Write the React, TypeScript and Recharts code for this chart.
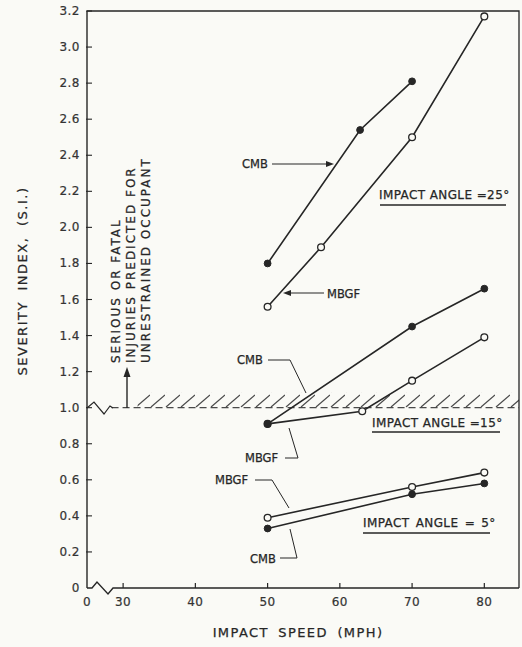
import { LineChart, Line, XAxis, YAxis, ReferenceLine, ReferenceArea } from "recharts";

const BG = "#fafaf6";
const INK = "#262626";
const SOFT = "#333333";
const FONT = "'DejaVu Sans', sans-serif";

// impact speed (mph) and severity index
const cmb25Speed = [50, 62.8, 70];
const cmb25SI = [1.8, 2.54, 2.81];
const mbgf25Speed = [50, 57.4, 70, 80];
const mbgf25SI = [1.56, 1.89, 2.5, 3.17];

const cmb15Speed = [50, 70, 80];
const cmb15SI = [0.91, 1.45, 1.66];
const mbgf15Speed = [50, 63.1, 70, 80];
const mbgf15SI = [0.91, 0.98, 1.15, 1.39];

const cmb5Speed = [50, 70, 80];
const cmb5SI = [0.33, 0.52, 0.58];
const mbgf5Speed = [50, 70, 80];
const mbgf5SI = [0.39, 0.56, 0.64];

// 25 stands for the broken "0" at the origin
const xTicks = [25, 30, 40, 50, 60, 70, 80];
const yTicks = [0, 0.2, 0.4, 0.6, 0.8, 1.0, 1.2, 1.4, 1.6, 1.8, 2.0, 2.2, 2.4, 2.6, 2.8, 3.0, 3.2];

const zip = (s: number[], v: number[]) => s.map((x, i) => ({ s: x, si: v[i] }));

const filledDot = { r: 3.4, fill: INK, stroke: INK, strokeWidth: 1 };
const openDot = { r: 3.4, fill: BG, stroke: INK, strokeWidth: 1.3 };

const X_MARGIN = 8;
const Y_MARGIN = 7;

function XTick(props: any) {
    const { x, y, payload } = props;
    const axisY = y - X_MARGIN;
    return (
        <g>
            {payload.value !== 25 && <line x1={x} x2={x} y1={axisY} y2={axisY - 5} stroke={INK} strokeWidth={1.2} />}
            <text x={x} y={y + 10} textAnchor="middle" fontSize={12} fill={SOFT} stroke={SOFT} strokeWidth={0.2} fontFamily={FONT} letterSpacing={0.5}>
                {payload.value === 25 ? "0" : payload.value}
            </text>
        </g>
    );
}

function YTick(props: any) {
    const { x, y, payload } = props;
    const axisX = x + Y_MARGIN;
    const v = payload.value;
    return (
        <g>
            {v !== 0 && <line x1={axisX - 1} x2={axisX + 5} y1={y} y2={y} stroke={INK} strokeWidth={1.1} />}
            <text x={x} y={y + 4} textAnchor="end" fontSize={12} fill={SOFT} stroke={SOFT} strokeWidth={0.2} fontFamily={FONT} letterSpacing={0.5}>
                {v === 0 ? "0" : v.toFixed(1)}
            </text>
        </g>
    );
}

const txt = { fontFamily: FONT, fill: INK, stroke: INK, strokeWidth: 0.25 } as const;

function Overlay() {
    return (
        <svg width={522} height={647} style={{ position: "absolute", left: 0, top: 0, pointerEvents: "none" }}>
            {/* frame and broken axes */}
            <path d="M87,11 L519,11 L519,588" fill="none" stroke={INK} strokeWidth={1.3} />
            <path d="M87,588 L92,588 L97,582 L108,594 L113,588 L519,588" fill="none" stroke={INK} strokeWidth={1.4} />
            <path d="M87,408 L94,402 L104,414 L110,406 L113,408" fill="none" stroke={INK} strokeWidth={1.2} />

            {/* threshold arrow and note */}
            <line x1={127} y1={408} x2={127} y2={374} stroke={INK} strokeWidth={1.4} />
            <polygon points="127,367 123.5,377 130.5,377" fill={INK} />
            <g fontSize={12} letterSpacing={2} {...txt}>
                <text transform="rotate(-90 120 363)" x={120} y={363}>SERIOUS OR FATAL</text>
                <text transform="rotate(-90 135 363)" x={135} y={363}>INJURIES PREDICTED FOR</text>
                <text transform="rotate(-90 150 363)" x={150} y={363}>UNRESTRAINED OCCUPANT</text>
            </g>

            {/* axis titles */}
            <text x={298} y={637} textAnchor="middle" fontSize={13} letterSpacing={1.4} wordSpacing={4} {...txt}>IMPACT SPEED (MPH)</text>
            <text transform="rotate(-90 27 281)" x={27} y={281} textAnchor="middle" fontSize={13} letterSpacing={1.5} wordSpacing={5} {...txt}>SEVERITY INDEX, (S.I.)</text>

            {/* angle captions */}
            <g fontSize={12} letterSpacing={0.4} {...txt}>
                <text x={379} y={199}>IMPACT ANGLE =25°</text>
                <text x={372} y={427}>IMPACT ANGLE =15°</text>
                <text x={363} y={527} wordSpacing={2}>IMPACT ANGLE = 5°</text>
            </g>
            <line x1={380} x2={506} y1={205} y2={205} stroke={INK} strokeWidth={1.3} />
            <line x1={372} x2={500} y1={432} y2={432} stroke={INK} strokeWidth={1.3} />
            <line x1={363} x2={490} y1={533} y2={533} stroke={INK} strokeWidth={1.3} />

            {/* leader labels */}
            <g fontSize={11.5} {...txt}>
                <text x={242} y={168}>CMB</text>
                <text x={327} y={298}>MBGF</text>
                <text x={237} y={364}>CMB</text>
                <text x={245} y={462}>MBGF</text>
                <text x={215} y={484}>MBGF</text>
                <text x={250} y={563}>CMB</text>
            </g>
            <g fill="none" stroke={INK} strokeWidth={1}>
                <line x1={272} y1={164} x2={328} y2={164} />
                <line x1={324} y1={293} x2={289} y2={293} />
                <path d="M268,360 L290,360 L306,393" />
                <path d="M285,458 L298,458 L289,428" />
                <path d="M255,480 L272,480 L289,508" />
                <path d="M280,558 L297,558 L290,529" />
            </g>
            <polygon points="334,164 326,161 326,167" fill={INK} />
            <polygon points="283,293 291,290 291,296" fill={INK} />
        </svg>
    );
}

export default function App() {
    return (
        <div style={{ position: "absolute", left: 0, top: 0, width: 522, height: 647, background: BG }}>
            <LineChart width={522} height={647} margin={{ top: 11, right: 3, bottom: 29, left: 0 }}>
                <defs>
                    <pattern id="hatch" patternUnits="userSpaceOnUse" width={15} height={15} x={0} y={393}>
                        <line x1={1} y1={14} x2={15} y2={2} stroke="#4a4a4a" strokeWidth={1.2} />
                    </pattern>
                </defs>
                <XAxis
                    type="number"
                    dataKey="s"
                    domain={[25, 84.8]}
                    ticks={xTicks}
                    allowDataOverflow
                    height={30}
                    axisLine={false}
                    tickLine={false}
                    tickSize={0}
                    tickMargin={X_MARGIN}
                    tick={<XTick />}
                    interval={0}
                />
                <YAxis
                    type="number"
                    dataKey="si"
                    domain={[0, 3.2]}
                    ticks={yTicks}
                    width={87}
                    axisLine={{ stroke: INK, strokeWidth: 1.4 }}
                    tickLine={false}
                    tickSize={0}
                    tickMargin={Y_MARGIN}
                    tick={<YTick />}
                    interval={0}
                />
                <ReferenceArea x1={32} x2={84.8} y1={1.0} y2={1.083} fill="url(#hatch)" fillOpacity={1} stroke="none" ifOverflow="visible" />
                <ReferenceLine
                    segment={[{ x: 28.4, y: 1 }, { x: 84.8, y: 1 }]}
                    stroke="#4a4a4a"
                    strokeWidth={1.2}
                    strokeDasharray="7 4"
                    ifOverflow="visible"
                />
                <Line data={zip(mbgf25Speed, mbgf25SI)} dataKey="si" type="linear" stroke={INK} strokeWidth={1.6} dot={openDot} isAnimationActive={false} />
                <Line data={zip(cmb25Speed, cmb25SI)} dataKey="si" type="linear" stroke={INK} strokeWidth={1.6} dot={filledDot} isAnimationActive={false} />
                <Line data={zip(mbgf15Speed, mbgf15SI)} dataKey="si" type="linear" stroke={INK} strokeWidth={1.6} dot={openDot} isAnimationActive={false} />
                <Line data={zip(cmb15Speed, cmb15SI)} dataKey="si" type="linear" stroke={INK} strokeWidth={1.6} dot={filledDot} isAnimationActive={false} />
                <Line data={zip(mbgf5Speed, mbgf5SI)} dataKey="si" type="linear" stroke={INK} strokeWidth={1.6} dot={openDot} isAnimationActive={false} />
                <Line data={zip(cmb5Speed, cmb5SI)} dataKey="si" type="linear" stroke={INK} strokeWidth={1.6} dot={filledDot} isAnimationActive={false} />
            </LineChart>
            <Overlay />
        </div>
    );
}
